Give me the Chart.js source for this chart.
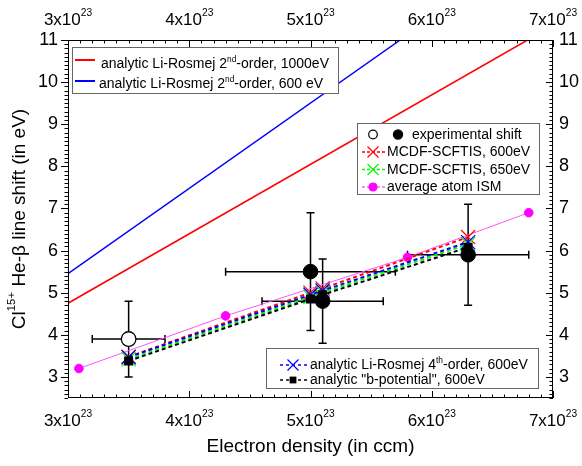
<!DOCTYPE html>
<html>
<head>
<meta charset="utf-8">
<script src="https://cdn.jsdelivr.net/npm/chart.js@4.4.1/dist/chart.umd.min.js"></script>
<style>
  body { margin: 0; background: #fff; }
  canvas { display: block; }
</style>
</head>
<body>
<canvas id="chart" width="582" height="466"></canvas>
<script>
// densities are in units of 1e23 per ccm
const xTicks = [3, 4, 5, 6, 7]
const yTicks = [3, 4, 5, 6, 7, 8, 9, 10, 11]

const lr2nd1000 = [{x: 3, y: 4.75}, {x: 6.79, y: 11}]
const lr2nd600 = [{x: 3, y: 5.45}, {x: 5.74, y: 11}]

const calcDensities = [3.5, 5.0, 5.1, 6.3]
const mcdf600 = [3.48, 5.0, 5.1, 6.32]
const mcdf650 = [3.42, 4.9, 5.0, 6.15]
const lr4th600 = [3.47, 4.95, 5.05, 6.2]
const bPotential600 = [3.38, 4.85, 4.95, 6.08]

const ismDensities = [3.09, 4.3, 5.8, 6.8]
const ismShift = [3.2, 4.45, 5.84, 6.9]

const expDensities = [3.5, 5.0, 5.1, 6.3]
const expShift = [3.9, 5.5, 4.8, 5.9]
const expShiftErr = [0.9, 1.4, 1.0, 1.2]
const expDensityErr = [0.3, 0.7, 0.5, 0.5]

const FONT = '"Liberation Sans", Arial, sans-serif'

function pts(xs, ys) {
    return xs.map((x, i) => ({x: x, y: ys[i]}))
}

// text pieces: [text, superscript?]
function richWidth(ctx, parts, size) {
    let w = 0
    for (const [t, sup] of parts) {
        ctx.font = (sup ? size * 0.6 : size) + 'px ' + FONT
        w += ctx.measureText(t).width
    }
    return w
}

function drawRich(ctx, parts, x, y, size) {
    let cx = x
    for (const [t, sup] of parts) {
        ctx.font = (sup ? size * 0.6 : size) + 'px ' + FONT
        ctx.fillText(t, cx, sup ? y - size * 0.42 : y)
        cx += ctx.measureText(t).width
    }
}

function marker(ctx, style, x, y, r, fill, stroke) {
    ctx.save()
    ctx.lineWidth = 1.2
    ctx.fillStyle = fill
    ctx.strokeStyle = stroke
    ctx.beginPath()
    if (style === 'circle') {
        ctx.arc(x, y, r, 0, Math.PI * 2)
        ctx.fill()
        ctx.stroke()
    } else if (style === 'rect') {
        ctx.fillRect(x - r, y - r, 2 * r, 2 * r)
    } else if (style === 'crossRot') {
        ctx.moveTo(x - r, y - r); ctx.lineTo(x + r, y + r)
        ctx.moveTo(x - r, y + r); ctx.lineTo(x + r, y - r)
        ctx.stroke()
    }
    ctx.restore()
}

function sampleLine(ctx, x0, x1, y, color, dash, width) {
    ctx.save()
    ctx.strokeStyle = color
    ctx.lineWidth = width
    ctx.setLineDash(dash)
    ctx.beginPath()
    ctx.moveTo(x0, y); ctx.lineTo(x1, y)
    ctx.stroke()
    ctx.restore()
}

const errorBars = {
    id: 'errorBars',
    beforeDatasetsDraw(chart) {
        const {ctx, scales: {x, y}} = chart
        ctx.save()
        ctx.strokeStyle = '#000'
        ctx.lineWidth = 1.5
        expDensities.forEach((d, i) => {
            const px = x.getPixelForValue(d)
            const py = y.getPixelForValue(expShift[i])
            const x0 = x.getPixelForValue(d - expDensityErr[i])
            const x1 = x.getPixelForValue(d + expDensityErr[i])
            const y0 = y.getPixelForValue(expShift[i] - expShiftErr[i])
            const y1 = y.getPixelForValue(expShift[i] + expShiftErr[i])
            ctx.beginPath()
            ctx.moveTo(x0, py); ctx.lineTo(x1, py)
            ctx.moveTo(px, y0); ctx.lineTo(px, y1)
            ctx.moveTo(x0, py - 4); ctx.lineTo(x0, py + 4)
            ctx.moveTo(x1, py - 4); ctx.lineTo(x1, py + 4)
            ctx.moveTo(px - 4, y0); ctx.lineTo(px + 4, y0)
            ctx.moveTo(px - 4, y1); ctx.lineTo(px + 4, y1)
            ctx.stroke()
        })
        ctx.restore()
    }
}

const frame = {
    id: 'frame',
    afterDraw(chart) {
        const {ctx, chartArea: a, scales: {x, y}} = chart
        ctx.save()
        // box
        ctx.strokeStyle = '#000'
        ctx.lineWidth = 1
        ctx.strokeRect(a.left + 0.5, a.top + 0.5, a.right - a.left - 1, a.bottom - a.top - 1)

        // tick marks
        ctx.beginPath()
        for (let i = 30; i <= 70; i++) {
            const px = Math.round(x.getPixelForValue(i / 10)) + 0.5
            const len = i % 10 === 0 ? 7 : 3.5
            ctx.moveTo(px, a.bottom); ctx.lineTo(px, a.bottom - len)
            ctx.moveTo(px, a.top); ctx.lineTo(px, a.top + len)
        }
        for (let i = 25; i <= 110; i++) {
            const py = Math.round(y.getPixelForValue(i / 10)) + 0.5
            const len = i % 10 === 0 ? 7 : 3.5
            ctx.moveTo(a.left, py); ctx.lineTo(a.left - len, py)
            ctx.moveTo(a.right, py); ctx.lineTo(a.right - len, py)
        }
        ctx.stroke()

        // x tick labels, top and bottom
        ctx.fillStyle = '#000'
        ctx.textBaseline = 'middle'
        ctx.textAlign = 'left'
        xTicks.forEach(v => {
            const parts = [[v + 'x10', false], ['23', true]]
            const w = richWidth(ctx, parts, 17)
            const px = x.getPixelForValue(v)
            drawRich(ctx, parts, px - w / 2, a.bottom + 23, 17)
            drawRich(ctx, parts, px - w / 2, a.top - 20, 17)
        })

        // axis titles
        ctx.font = '19px ' + FONT
        ctx.textAlign = 'center'
        ctx.fillText('Electron density (in ccm)', (a.left + a.right) / 2, 447)

        ctx.save()
        ctx.translate(20, (a.top + a.bottom) / 2)
        ctx.rotate(-Math.PI / 2)
        ctx.textAlign = 'left'
        const yTitle = [['Cl', false], ['15+', true], [' He-\u03b2 line shift (in eV)', false]]
        const tw = richWidth(ctx, yTitle, 19)
        drawRich(ctx, yTitle, -tw / 2, 0, 19)
        ctx.restore()

        // legend boxes
        ctx.textBaseline = 'alphabetic'
        ctx.textAlign = 'left'
        ctx.lineWidth = 1
        ctx.strokeStyle = '#666'
        ctx.fillStyle = '#fff'
        ctx.fillRect(72.5, 47.5, 266, 46); ctx.strokeRect(72.5, 47.5, 266, 46)
        ctx.fillRect(357.5, 123.5, 182, 71); ctx.strokeRect(357.5, 123.5, 182, 71)
        ctx.fillRect(266.5, 348.5, 272, 40); ctx.strokeRect(266.5, 348.5, 272, 40)

        ctx.fillStyle = '#000'
        // legend 1
        sampleLine(ctx, 75, 95, 60, '#ff0000', [], 2)
        drawRich(ctx, [['analytic Li-Rosmej 2', false], ['nd', true], ['-order, 1000eV', false]], 101, 68, 14)
        sampleLine(ctx, 75, 95, 81, '#0000ff', [], 2)
        drawRich(ctx, [['analytic Li-Rosmej 2', false], ['nd', true], ['-order, 600 eV', false]], 99, 88, 14)

        // legend 2
        marker(ctx, 'circle', 373, 134.5, 4.3, '#fff', '#000')
        marker(ctx, 'circle', 398, 134.5, 4.6, '#000', '#000')
        ctx.fillStyle = '#000'
        ctx.font = '14px ' + FONT
        ctx.fillText('experimental shift', 412, 138.5)
        sampleLine(ctx, 362, 385, 152, '#ff0000', [3, 2], 1.5)
        marker(ctx, 'crossRot', 373, 152, 5.5, '#ff0000', '#ff0000')
        ctx.fillText('MCDF-SCFTIS, 600eV', 387, 156)
        sampleLine(ctx, 362, 385, 169.5, '#00ff00', [3, 2], 1.5)
        marker(ctx, 'crossRot', 373, 169.5, 5.5, '#00ff00', '#00ff00')
        ctx.fillText('MCDF-SCFTIS, 650eV', 387, 173.5)
        sampleLine(ctx, 362, 385, 187, '#ff66ff', [3, 2], 1.5)
        marker(ctx, 'circle', 373, 187, 4, '#ff00ff', '#ff00ff')
        ctx.fillText('average atom ISM', 387, 191)

        // legend 3
        sampleLine(ctx, 280, 307, 365, '#0000ff', [3, 3], 1.5)
        marker(ctx, 'crossRot', 293, 365, 5.5, '#0000ff', '#0000ff')
        ctx.fillStyle = '#000'
        drawRich(ctx, [['analytic Li-Rosmej 4', false], ['th', true], ['-order, 600eV', false]], 310, 369, 14)
        sampleLine(ctx, 280, 307, 380, '#000', [3, 3], 1.5)
        marker(ctx, 'rect', 293, 380, 3.4, '#000', '#000')
        ctx.fillStyle = '#000'
        ctx.font = '14px ' + FONT
        ctx.fillText('analytic "b-potential", 600eV', 310, 384)
        ctx.restore()
    }
}

const dashedSeries = (label, ys, color, style, radius) => ({
    label: label,
    data: pts(calcDensities, ys),
    showLine: true,
    borderColor: color,
    backgroundColor: color,
    borderWidth: 2,
    borderDash: [4, 3],
    pointStyle: style,
    pointRadius: radius,
    pointBorderWidth: 1.2,
    pointBorderColor: color,
    pointBackgroundColor: color
})

new Chart(document.getElementById('chart'), {
    type: 'scatter',
    data: {
        datasets: [
            {
                label: 'experimental shift',
                data: pts(expDensities.slice(1), expShift.slice(1)),
                pointRadius: 7.3,
                pointBackgroundColor: '#000',
                pointBorderColor: '#000',
                pointBorderWidth: 1
            },
            {
                label: 'experimental shift (open)',
                data: pts(expDensities.slice(0, 1), expShift.slice(0, 1)),
                pointRadius: 7.3,
                pointBackgroundColor: '#fff',
                pointBorderColor: '#000',
                pointBorderWidth: 1.3
            },
            dashedSeries('analytic "b-potential", 600eV', bPotential600, '#000', 'rect', 5.5),
            dashedSeries('analytic Li-Rosmej 4th-order, 600eV', lr4th600, '#0000ff', 'crossRot', 10),
            dashedSeries('MCDF-SCFTIS, 650eV', mcdf650, '#00ff00', 'crossRot', 10),
            dashedSeries('MCDF-SCFTIS, 600eV', mcdf600, '#ff0000', 'crossRot', 10),
            {
                label: 'average atom ISM',
                data: pts(ismDensities, ismShift),
                showLine: true,
                borderColor: '#ff55ff',
                borderWidth: 1,
                pointRadius: 4.3,
                pointBackgroundColor: '#ff00ff',
                pointBorderColor: '#ff00ff'
            },
            {
                label: 'analytic Li-Rosmej 2nd-order, 1000eV',
                data: lr2nd1000,
                showLine: true,
                borderColor: '#ff0000',
                borderWidth: 1.5,
                pointRadius: 0
            },
            {
                label: 'analytic Li-Rosmej 2nd-order, 600 eV',
                data: lr2nd600,
                showLine: true,
                borderColor: '#0000ff',
                borderWidth: 1.5,
                pointRadius: 0
            }
        ]
    },
    options: {
        responsive: false,
        animation: false,
        events: [],
        layout: {padding: 0},
        plugins: {legend: {display: false}, tooltip: {enabled: false}},
        scales: {
            x: {
                type: 'linear', position: 'bottom', min: 3, max: 7,
                grid: {display: false}, border: {display: false},
                ticks: {display: false},
                afterFit: s => { s.height = 68 }
            },
            x2: {
                type: 'linear', position: 'top', min: 3, max: 7,
                grid: {display: false}, border: {display: false},
                ticks: {display: false},
                afterFit: s => { s.height = 40 }
            },
            y: {
                type: 'linear', position: 'left', min: 2.5, max: 11,
                grid: {display: false, drawTicks: false}, border: {display: false},
                afterBuildTicks: s => { s.ticks = yTicks.map(v => ({value: v})) },
                ticks: {color: '#000', padding: 10, font: {family: FONT, size: 18}},
                afterFit: s => { s.width = 68 }
            },
            y2: {
                type: 'linear', position: 'right', min: 2.5, max: 11,
                grid: {display: false, drawTicks: false}, border: {display: false},
                afterBuildTicks: s => { s.ticks = yTicks.map(v => ({value: v})) },
                ticks: {color: '#000', padding: 6, font: {family: FONT, size: 18}},
                afterFit: s => { s.width = 29 }
            }
        }
    },
    plugins: [errorBars, frame]
})
</script>
</body>
</html>
